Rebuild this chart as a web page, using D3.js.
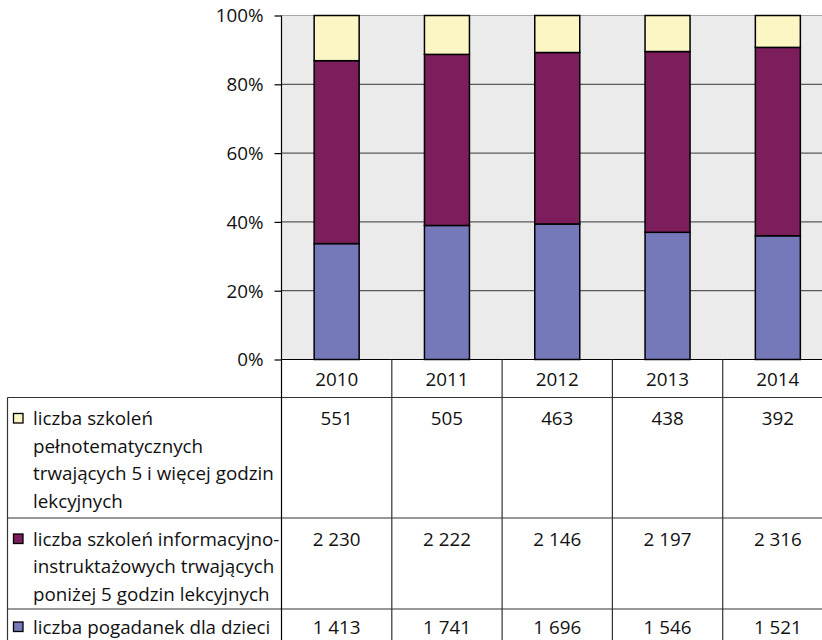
<!DOCTYPE html>
<html><head><meta charset="utf-8">
<script src="https://cdn.jsdelivr.net/npm/d3@7"></script>
<style>html,body{margin:0;padding:0;background:#fff;overflow:hidden}svg{display:block}</style>
</head><body>
<svg id="c" width="822" height="640"></svg>
<script>
const years = ["2010","2011","2012","2013","2014"];
const seriesNames = [
  ["liczba szkoleń","pełnotematycznych","trwających 5 i więcej godzin","lekcyjnych"],
  ["liczba szkoleń informacyjno-","instruktażowych trwających","poniżej 5 godzin lekcyjnych"],
  ["liczba pogadanek dla dzieci"]
];
const szkoleniaPelne = [551, 505, 463, 438, 392];
const szkoleniaInfo = [2230, 2222, 2146, 2197, 2316];
const pogadanki = [1413, 1741, 1696, 1546, 1521];
const yTicks = [0, 0.2, 0.4, 0.6, 0.8, 1.0];
const colors = ["#FBF6C4", "#7C1E5B", "#7579B9"];

const font = "'Open Sans', 'Noto Sans', sans-serif";
const svg = d3.select("#c");

// fit font size so the widest label line matches the reference width (~241px)
const probe = svg.append("text").attr("font-family", font).attr("font-size", 20).text("trwających 5 i więcej godzin");
const w20 = probe.node().getComputedTextLength();
probe.remove();
const fs = Math.max(14, Math.min(19, 20 * 241 / w20));

const rows = [
  {key:"pelne", names:seriesNames[0], values:szkoleniaPelne, color:colors[0]},
  {key:"info", names:seriesNames[1], values:szkoleniaInfo, color:colors[1]},
  {key:"pog", names:seriesNames[2], values:pogadanki, color:colors[2]}
];
const data = years.map((y,i)=>({year:y, pog:pogadanki[i], info:szkoleniaInfo[i], pelne:szkoleniaPelne[i]}));
const stack = d3.stack().keys(["pog","info","pelne"]).offset(d3.stackOffsetExpand);
const stacked = stack(data);

const x = d3.scaleBand().domain(years).range([281.5, 833]).padding(0);
const y = d3.scaleLinear().domain([0,1]).range([359.5, 15.5]);
const barW = 45;

svg.append("rect").attr("x", x.range()[0]).attr("y", y(1)).attr("width", x.range()[1]-x.range()[0]).attr("height", y(0)-y(1)).attr("fill","#EBEBEB");

svg.append("g").selectAll("line").data(yTicks.filter(t=>t>0)).join("line")
  .attr("x1", x.range()[0]).attr("x2", x.range()[1])
  .attr("y1", d=>y(d)).attr("y2", d=>y(d))
  .attr("stroke", d=> d===1 ? "#a8a8a8" : "#5a5a5a").attr("stroke-width", 1.2);

const colorMap = {pog:colors[2], info:colors[1], pelne:colors[0]};
svg.append("g").selectAll("g").data(stacked).join("g")
  .attr("fill", d=>colorMap[d.key])
  .selectAll("rect").data(d=>d).join("rect")
  .attr("x", d=>x(d.data.year)+x.bandwidth()/2-barW/2)
  .attr("width", barW)
  .attr("y", d=>y(d[1]))
  .attr("height", d=>y(d[0])-y(d[1]))
  .attr("stroke","#000").attr("stroke-width",1.5);

const yAxis = d3.axisLeft(y).tickValues(yTicks).tickFormat(d3.format(".0%")).tickSize(7).tickPadding(11);
const ga = svg.append("g").attr("transform", `translate(${x.range()[0]},0)`).call(yAxis);
ga.select(".domain").attr("stroke","#000").attr("stroke-width",1.2).attr("d", `M-0,${y(1)}V${y(0)}`);
ga.selectAll(".tick line").attr("stroke","#000").attr("stroke-width",1.2);
ga.selectAll(".tick text").attr("font-family", font).attr("font-size", fs).attr("fill","#111").attr("dy","0.34em");

const loc = d3.formatLocale({decimal:",", thousands:"\u00a0", grouping:[3], currency:["","zł"]});
const fmt = loc.format(",d");
const tableLeft = 7.5, headerTop = y(0), headerBottom = 397.5;
const rowTops = [397.5, 518, 609];
const rowBaseOffsets = [27.5, 27.5, 24.5];
const lineColor = "#333";
const tg = svg.append("g");

tg.selectAll("text.hdr").data(years).join("text").attr("class","hdr")
  .attr("x", d=>x(d)+x.bandwidth()/2).attr("y", headerBottom-12)
  .attr("text-anchor","middle").attr("font-family",font).attr("font-size",fs).attr("fill","#111")
  .text(d=>d);

tg.append("line").attr("x1", x.range()[0]).attr("x2", x.range()[1]).attr("y1", headerTop).attr("y2", headerTop).attr("stroke","#000").attr("stroke-width",1.2);
rowTops.forEach(t=>{
  tg.append("line").attr("x1", tableLeft).attr("x2", x.range()[1]).attr("y1", t).attr("y2", t).attr("stroke",lineColor).attr("stroke-width",1.2);
});
years.forEach(yr=>{
  const xv = x(yr)+x.bandwidth();
  tg.append("line").attr("x1", xv).attr("x2", xv).attr("y1", headerTop).attr("y2", 640).attr("stroke",lineColor).attr("stroke-width",1.2);
});
tg.append("line").attr("x1", x.range()[0]).attr("x2", x.range()[0]).attr("y1", headerTop).attr("y2", 640).attr("stroke","#000").attr("stroke-width",1.2);
tg.append("line").attr("x1", tableLeft).attr("x2", tableLeft).attr("y1", rowTops[0]).attr("y2", 640).attr("stroke",lineColor).attr("stroke-width",1.2);

rows.forEach((r,ri)=>{
  const top = rowTops[ri];
  const base = top + rowBaseOffsets[ri];
  tg.append("rect").attr("x", 13.5).attr("y", base-11.5).attr("width", 9.5).attr("height", 9.5)
    .attr("fill", r.color).attr("stroke","#000").attr("stroke-width",1.3);
  r.names.forEach((ln,li)=>{
    tg.append("text").attr("x", 33).attr("y", base + li*27.7)
      .attr("font-family",font).attr("font-size",fs).attr("fill","#111").text(ln);
  });
  r.values.forEach((v,vi)=>{
    tg.append("text").attr("x", x(years[vi])+x.bandwidth()/2).attr("y", base)
      .attr("text-anchor","middle").attr("font-family",font).attr("font-size",fs).attr("fill","#111").text(fmt(v));
  });
});
</script>
</body></html>
